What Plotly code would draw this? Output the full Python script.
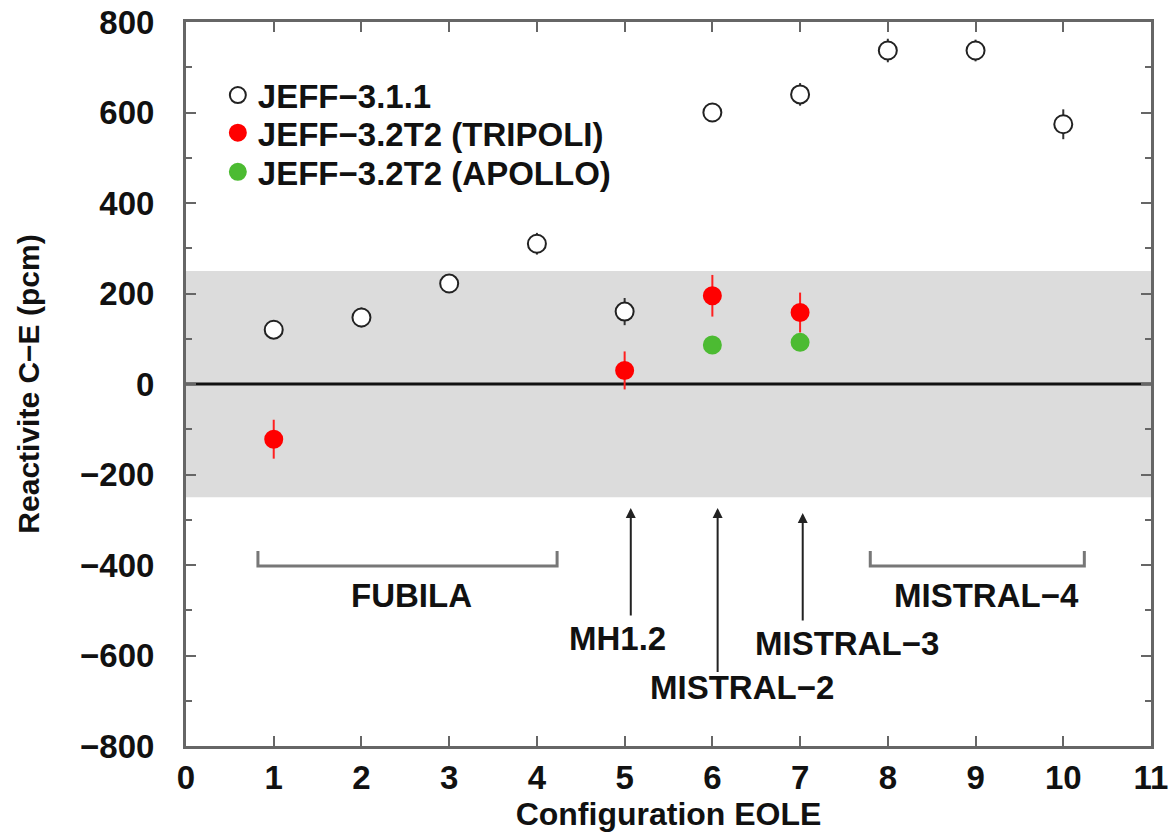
import plotly.graph_objects as go

# ---- data ----
config_jeff311 = [1, 2, 3, 4, 5, 6, 7, 8, 9, 10]
jeff311 = [120, 147, 222, 310, 160, 600, 640, 737, 737, 574]
jeff311_err = [12, 22, 14, 24, 30, 20, 25, 26, 24, 33]

config_tripoli = [1, 5, 6, 7]
tripoli = [-122, 30, 195, 158]
tripoli_err = [43, 42, 46, 44]

config_apollo = [6, 7]
apollo = [86, 92]

x_ticks = list(range(0, 12))
y_ticks = list(range(-800, 801, 200))

band_limits = [-250, 250]

bracket_labels = ["FUBILA", "MISTRAL\u22124"]
bracket_ranges = [(0.82, 4.23), (7.80, 10.24)]
bracket_level = -402
bracket_tick_top = -369
bracket_label_x = [2.57, 9.13]
bracket_label_y = -467

arrow_x = [5.07, 6.06, 7.03]
arrow_tip = [-274, -274, -285]
arrow_tail = [-515, -640, -526]
arrow_labels = ["MH1.2", "MISTRAL\u22122", "MISTRAL\u22123"]
arrow_label_x = [4.92, 6.34, 7.53]
arrow_label_y = [-562, -670, -573]

legend_names = ["JEFF\u22123.1.1", "JEFF\u22123.2T2 (TRIPOLI)", "JEFF\u22123.2T2 (APOLLO)"]
legend_y = [0.899, 0.847, 0.793]

FONT = "Liberation Sans, Arial, Helvetica, sans-serif"
AXIS_COL = "#666666"
TXT = "#111111"
FS = 33

fig = go.Figure()

fig.add_trace(go.Scatter(
    x=config_jeff311, y=jeff311, mode="markers", name=legend_names[0], legend="legend",
    error_y=dict(type="data", array=jeff311_err, color="#333333", thickness=2, width=0),
    marker=dict(symbol="circle", size=18, color="white", line=dict(color="#222222", width=2)),
))
fig.add_trace(go.Scatter(
    x=config_tripoli, y=tripoli, mode="markers", name=legend_names[1], legend="legend2",
    error_y=dict(type="data", array=tripoli_err, color="#ff2020", thickness=2, width=0),
    marker=dict(symbol="circle", size=17, color="#ff0000", line=dict(color="#ff0000", width=2)),
))
fig.add_trace(go.Scatter(
    x=config_apollo, y=apollo, mode="markers", name=legend_names[2], legend="legend3",
    marker=dict(symbol="circle", size=17, color="#4cbb32", line=dict(color="#4cbb32", width=2)),
))

shapes = [
    dict(type="rect", xref="x", yref="y", x0=0, x1=11, y0=band_limits[0], y1=band_limits[1],
         fillcolor="#dcdcdc", line=dict(width=0), layer="below"),
    dict(type="line", xref="x", yref="y", x0=0, x1=11, y0=0, y1=0,
         line=dict(color="#111111", width=3), layer="below"),
]
for (a, b) in bracket_ranges:
    shapes.append(dict(type="path", xref="x", yref="y",
                       path=f"M {a},{bracket_tick_top} L {a},{bracket_level} L {b},{bracket_level} L {b},{bracket_tick_top}",
                       line=dict(color="#777777", width=3)))

afont = dict(family=FONT, size=FS, color=TXT, weight="bold")
annotations = []
for lab, lx in zip(bracket_labels, bracket_label_x):
    annotations.append(dict(x=lx, y=bracket_label_y, xref="x", yref="y", text=lab,
                            showarrow=False, font=afont))
for ax_, tip, tail in zip(arrow_x, arrow_tip, arrow_tail):
    annotations.append(dict(x=ax_, y=tip, ax=ax_, ay=tail, xref="x", yref="y", axref="x", ayref="y",
                            text="", showarrow=True, arrowhead=2, arrowsize=1.0, arrowwidth=2,
                            arrowcolor="#222222"))
for lab, lx, ly in zip(arrow_labels, arrow_label_x, arrow_label_y):
    annotations.append(dict(x=lx, y=ly, xref="x", yref="y", text=lab, showarrow=False, font=afont))

def legend_box(yv):
    return dict(x=0.033, y=yv, xanchor="left", yanchor="middle", bgcolor="rgba(0,0,0,0)",
                font=dict(family=FONT, size=FS, color=TXT, weight="bold"), itemwidth=30,
                borderwidth=0)

fig.update_layout(
    width=1169, height=834,
    margin=dict(l=186, r=18, t=22, b=88, autoexpand=False),
    plot_bgcolor="white", paper_bgcolor="white",
    font=dict(family=FONT, size=FS, color=TXT),
    shapes=shapes, annotations=annotations,
    showlegend=True,
    legend=legend_box(legend_y[0]),
    legend2=legend_box(legend_y[1]),
    legend3=legend_box(legend_y[2]),
)
fig.update_xaxes(
    range=[0, 11], tickvals=x_ticks, ticktext=[str(v) for v in x_ticks],
    automargin=False,
    showgrid=False, zeroline=False, showline=True, linecolor=AXIS_COL, linewidth=3,
    mirror="allticks", ticks="inside", ticklen=10, tickwidth=2, tickcolor=AXIS_COL,
    ticklabelstandoff=0,
    tickfont=dict(family=FONT, size=FS, color=TXT, weight="bold"),
    title=dict(text="Configuration EOLE", font=dict(family=FONT, size=32, color=TXT, weight="bold"),
               standoff=2),
)
fig.update_yaxes(
    range=[-800, 800], tickvals=y_ticks,
    ticktext=[str(v).replace("-", "\u2212") for v in y_ticks],
    automargin=False,
    showgrid=False, zeroline=False, showline=True, linecolor=AXIS_COL, linewidth=3,
    mirror="allticks", ticks="inside", ticklen=10, tickwidth=2, tickcolor=AXIS_COL,
    minor=dict(ticks="inside", ticklen=6, tickwidth=2, tickcolor=AXIS_COL, dtick=100, showgrid=False),
    ticklabelstandoff=22,
    tickfont=dict(family=FONT, size=FS, color=TXT, weight="bold"),
    title=dict(text="Reactivite C\u2212E (pcm)", font=dict(family=FONT, size=30, color=TXT, weight="bold"),
               standoff=32),
)

fig.write_html("out.html")
